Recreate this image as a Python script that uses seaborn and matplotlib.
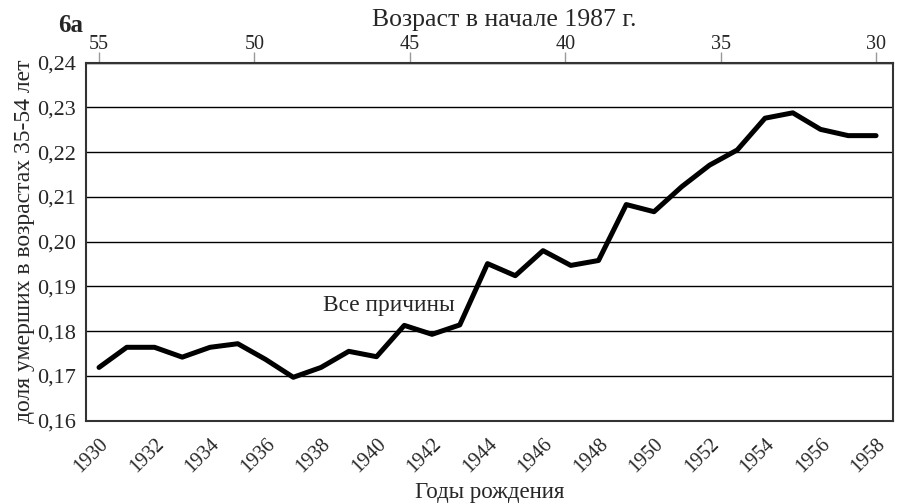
import numpy as np
import pandas as pd
import matplotlib
matplotlib.use("Agg")
import matplotlib.pyplot as plt
import seaborn as sns
from matplotlib.ticker import FuncFormatter

# годы рождения и доля умерших в возрастах 35-54 лет
years = list(range(1930, 1959))
share = [0.1719, 0.1764, 0.1764, 0.1742, 0.1764, 0.1772, 0.1737, 0.1697,
         0.1719, 0.1755, 0.1743, 0.1813, 0.1793, 0.1814, 0.1951, 0.1924,
         0.1980, 0.1947, 0.1958, 0.2083, 0.2067, 0.2123, 0.2171, 0.2205,
         0.2276, 0.2288, 0.2251, 0.2237, 0.2237]
age_ticks = [55, 50, 45, 40, 35, 30]

df = pd.DataFrame({"year": years, "share": share})

sns.set_style("white")
plt.rcParams["font.family"] = ["Liberation Serif", "DejaVu Serif"]

fig = plt.figure(figsize=(9.05, 5.04), dpi=100)
ax = fig.add_axes([0.095, 0.1653, 0.892, 0.7103])

sns.lineplot(data=df, x="year", y="share", color="black", linewidth=3.6, ax=ax)

ax.set_xlim(1929.53, 1958.62)
ax.set_ylim(0.16, 0.24)
ax.set_yticks(np.arange(0.16, 0.2401, 0.01))
ax.yaxis.set_major_formatter(FuncFormatter(lambda v, p: f"{v:.2f}".replace(".", ",")))
ax.set_xticks(range(1930, 1959, 2))
ax.tick_params(axis="y", direction="out", length=6, width=1, color="black", labelsize=16, pad=1)
ax.tick_params(axis="x", direction="out", length=9, width=1, color="#999999", labelsize=14.5, pad=1)
for lbl in ax.get_xticklabels():
    lbl.set_rotation(45)
    lbl.set_ha("right")
    lbl.set_rotation_mode("anchor")

ax.grid(axis="y", color="black", linewidth=1)
ax.grid(axis="x", visible=False)
for s in ax.spines.values():
    s.set_color("#333333")
    s.set_linewidth(1.5)

ax.set_xlabel("Годы рождения", fontsize=16.5, labelpad=4)
ax.set_ylabel("доля умерших в возрастах 35-54 лет", fontsize=17, labelpad=2)

top = ax.secondary_xaxis("top",
                         functions=(lambda y: 55 - (y - 1930) * 25 / 28,
                                    lambda a: 1930 + (55 - a) * 28 / 25))
top.set_xticks(age_ticks)
top.tick_params(direction="out", length=8, width=1, color="#999999", labelsize=14.5, pad=-2)
for lbl in top.get_xticklabels():
    lbl.set_fontsize(14.5)

fig.text(0.557, 0.96, "Возраст в начале 1987 г.", fontsize=18.5, ha="center", va="center")
ax.text(1940.45, 0.1857, "Все причины", fontsize=16.8, ha="center", va="center")
fig.text(0.064, 0.95, "6а", fontsize=18, fontweight="bold", ha="left", va="center")

fig.savefig("out.png", dpi=100)
